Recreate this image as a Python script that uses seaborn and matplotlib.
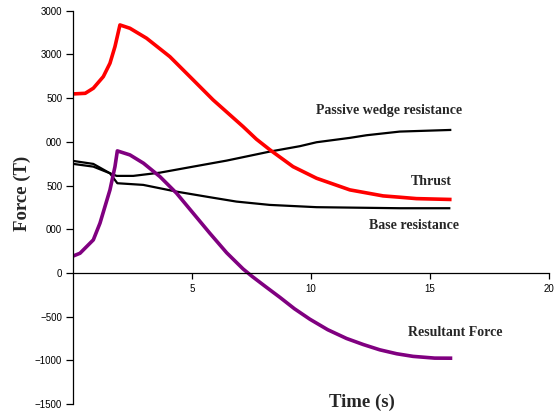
import matplotlib
matplotlib.use("Agg")
import matplotlib.pyplot as plt
import seaborn as sns
import pandas as pd

# Time histories of the forces acting on the sliding mass (tonnes)
thrust_t = [0, 0.5, 0.84, 1.26, 1.54, 1.75, 1.96, 2.38, 3.08, 4.06, 5.04, 5.88,
            7.14, 7.7, 8.26, 9.24, 10.23, 11.63, 13.03, 13.73, 14.43, 15.91]
thrust_f = [2048, 2055, 2113, 2246, 2399, 2589, 2837, 2799, 2685, 2474, 2208, 1979,
            1674, 1530, 1410, 1216, 1083, 950, 881, 866, 850, 840]

passive_t = [0, 0.84, 1.54, 1.82, 2.52, 3.64, 5.04, 6.45, 8.26, 9.53, 10.23,
             11.63, 12.33, 13.73, 15.9]
passive_f = [1281, 1247, 1140, 1110, 1110, 1147, 1216, 1285, 1388, 1450, 1495,
             1545, 1575, 1617, 1636]

base_t = [0, 0.84, 1.54, 1.85, 2.94, 4.34, 5.74, 6.86, 8.26, 10.23, 13.73, 15.86]
base_f = [1247, 1216, 1140, 1026, 1007, 930, 866, 816, 778, 752, 740, 740]

result_t = [0, 0.28, 0.84, 1.12, 1.54, 1.75, 1.85, 2.38, 2.95, 3.64, 4.34, 5.04,
            5.74, 6.45, 7.14, 7.52, 8.1, 8.69, 9.3, 9.95, 10.7, 11.49, 12.2,
            12.89, 13.6, 14.29, 15.2, 15.94]
result_f = [194, 225, 378, 569, 950, 1216, 1396, 1350, 1255, 1102, 912, 683,
            454, 230, 45, -40, -160, -280, -410, -530, -650, -750, -820,
            -880, -925, -955, -975, -976]

x_ticks = [5, 10, 15, 20]
y_ticks = [3000, 2500, 2000, 1500, 1000, 500, 0, -500, -1000, -1500]
y_tick_labels = ["3000", "3000", "500", "000", "500", "000", "0",
                 "\u2212500", "\u22121000", "\u22121500"]

sns.set_style("white")
plt.rcParams["font.family"] = ["Liberation Sans", "DejaVu Sans"]

fig = plt.figure(figsize=(5.6, 4.15), dpi=100)
ax = fig.add_axes([0.131, 0.0265, 0.849, 0.9477])

series = [
    (passive_t, passive_f, "black", 1.6),
    (base_t, base_f, "black", 1.6),
    (thrust_t, thrust_f, "#ff0000", 2.6),
    (result_t, result_f, "#800080", 2.6),
]
for t, f, c, lw in series:
    df = pd.DataFrame({"t": t, "f": f})
    sns.lineplot(data=df, x="t", y="f", ax=ax, color=c, linewidth=lw,
                 estimator=None, sort=False)
for ln in ax.lines:
    ln.set_solid_joinstyle("round")
    ln.set_solid_capstyle("butt")

ax.set_xlim(0, 20)
ax.set_ylim(-1500, 3000)
ax.set_xticks(x_ticks)
ax.set_xticklabels([str(v) for v in x_ticks])
ax.set_yticks(y_ticks)
ax.set_yticklabels(y_tick_labels)

for s in ["top", "right"]:
    ax.spines[s].set_visible(False)
ax.spines["bottom"].set_position(("data", 0))
for s in ["left", "bottom"]:
    ax.spines[s].set_color("black")
    ax.spines[s].set_linewidth(0.9)

ax.tick_params(axis="x", direction="out", length=4, width=0.9, pad=4,
               labelsize=7, colors="black", bottom=True)
ax.tick_params(axis="y", direction="out", length=5, width=0.9, pad=3,
               labelsize=7, colors="black", left=True)

serif_bold = dict(family="Liberation Serif", fontweight="bold")
ax.set_xlabel("Time (s)", fontsize=13.5, **serif_bold)
ax.set_ylabel("Force (T)", fontsize=13.5, **serif_bold)
ax.xaxis.set_label_coords(0.607, 0.003)
ax.xaxis.label.set_verticalalignment("center")
ax.yaxis.set_label_coords(-0.108, 0.536)
ax.yaxis.label.set_verticalalignment("center")

ax.text(13.26, 1857, "Passive wedge resistance", ha="center", va="center",
        fontsize=10, **serif_bold)
ax.text(15.92, 1044, "Thrust", ha="right", va="center", fontsize=10, **serif_bold)
ax.text(14.33, 548, "Base resistance", ha="center", va="center",
        fontsize=10, **serif_bold)
ax.text(16.08, -687, "Resultant Force", ha="center", va="center",
        fontsize=10, **serif_bold)

fig.savefig("out.png", dpi=100)
